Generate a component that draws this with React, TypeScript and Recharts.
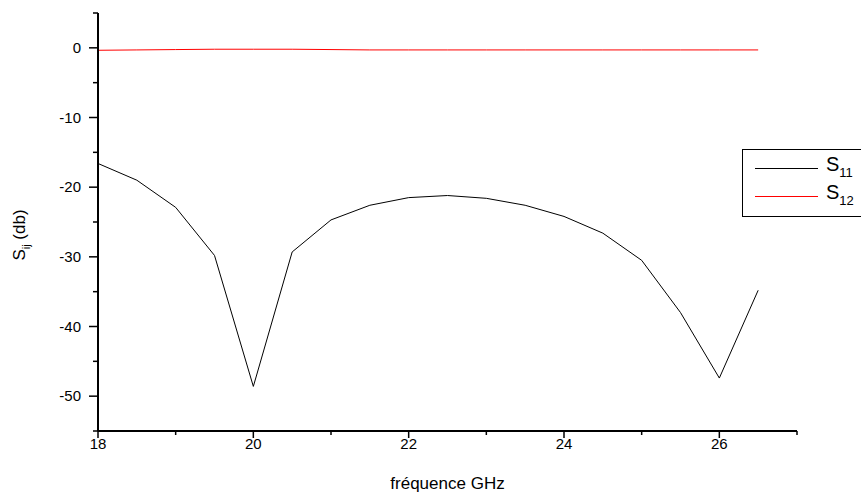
import { LineChart, Line, XAxis, YAxis } from "recharts";

const freqs = [18, 18.5, 19, 19.5, 20, 20.5, 21, 21.5, 22, 22.5, 23, 23.5, 24, 24.5, 25, 25.5, 26, 26.5];
const s11 = [-16.6, -19.0, -22.9, -29.8, -48.6, -29.3, -24.7, -22.6, -21.5, -21.2, -21.6, -22.6, -24.2, -26.6, -30.5, -38.0, -47.4, -34.8];
const s12 = [-0.35, -0.3, -0.25, -0.2, -0.2, -0.2, -0.25, -0.3, -0.3, -0.3, -0.3, -0.3, -0.3, -0.3, -0.3, -0.3, -0.3, -0.3];
const xTicks = [18, 19, 20, 21, 22, 23, 24, 25, 26, 27];
const yTicks = [-55, -50, -45, -40, -35, -30, -25, -20, -15, -10, -5, 0, 5];
const legendItems = [
  { sub: "11", color: "#000" },
  { sub: "12", color: "#ff0000" },
];

const data = freqs.map((f, i) => ({ f, s11: s11[i], s12: s12[i] }));

const FONT = "'Liberation Sans', Arial, sans-serif";

function XTick({ x, y, payload }: any) {
  const major = payload.value % 2 === 0;
  return (
    <g>
      <line x1={x} x2={x} y1={y} y2={y + (major ? 7 : 4)} stroke="#000" strokeWidth={1.5} />
      {major && (
        <text x={x} y={y + 18} textAnchor="middle" fontSize={15} fontFamily={FONT} fill="#000">
          {payload.value}
        </text>
      )}
    </g>
  );
}

function YTick({ x, y, payload }: any) {
  const major = payload.value % 10 === 0;
  return (
    <g>
      <line x1={x} x2={x - (major ? 9 : 5)} y1={y} y2={y} stroke="#000" strokeWidth={1.5} />
      {major && (
        <text x={x - 17} y={y + 5} textAnchor="end" fontSize={15} fontFamily={FONT} fill="#000">
          {payload.value}
        </text>
      )}
    </g>
  );
}

function YLabel({ viewBox }: any) {
  const cx = viewBox.x + 19;
  const cy = viewBox.y + viewBox.height / 2 + 13;
  return (
    <text
      transform={`translate(${cx},${cy}) rotate(-90)`}
      textAnchor="middle"
      fontSize={17}
      fontFamily={FONT}
      fill="#000"
      dy={6}
    >
      S<tspan fontSize={11} dy={5}>ij</tspan>
      <tspan dy={-5}> (db)</tspan>
    </text>
  );
}

function XLabel({ viewBox }: any) {
  return (
    <text
      x={viewBox.x + viewBox.width / 2}
      y={viewBox.y + 58}
      textAnchor="middle"
      fontSize={17}
      fontFamily={FONT}
      fill="#000"
    >
      fréquence GHz
    </text>
  );
}

function LegendBox() {
  return (
    <div
      style={{
        position: "absolute",
        left: 742,
        top: 149,
        border: "1.5px solid #000",
        width: 140,
        height: 68,
        boxSizing: "border-box",
        paddingTop: 4,
        fontFamily: FONT,
        background: "#fff",
      }}
    >
      {legendItems.map((r) => (
        <div key={r.sub} style={{ display: "flex", alignItems: "center", height: 28 }}>
          <div style={{ marginLeft: 12, width: 63, height: 1, background: r.color }} />
          <span style={{ marginLeft: 8, fontSize: 20, color: "#000", lineHeight: "20px" }}>
            S<sub style={{ fontSize: 13, verticalAlign: "-6px" }}>{r.sub}</sub>
          </span>
        </div>
      ))}
    </div>
  );
}

export default function App() {
  return (
    <div style={{ position: "absolute", left: 0, top: 0, width: 861, height: 496, background: "#fff", overflow: "hidden" }}>
      <LineChart width={861} height={496} data={data} margin={{ top: 13, right: 64, left: 0, bottom: 0 }}>
        <XAxis
          dataKey="f"
          type="number"
          domain={[18, 27]}
          ticks={xTicks}
          interval={0}
          allowDataOverflow
          height={65}
          tickSize={0}
          tickMargin={0}
          tick={<XTick />}
          axisLine={{ stroke: "#000", strokeWidth: 2 }}
          label={<XLabel />}
        />
        <YAxis
          type="number"
          domain={[-55, 5]}
          ticks={yTicks}
          interval={0}
          allowDataOverflow
          width={98}
          tickSize={0}
          tickMargin={0}
          tick={<YTick />}
          axisLine={{ stroke: "#000", strokeWidth: 2 }}
          label={<YLabel />}
        />
        <Line type="linear" dataKey="s11" stroke="#000" strokeWidth={1} dot={false} isAnimationActive={false} />
        <Line type="linear" dataKey="s12" stroke="#ff0000" strokeWidth={1} dot={false} isAnimationActive={false} />
      </LineChart>
      <LegendBox />
    </div>
  );
}
